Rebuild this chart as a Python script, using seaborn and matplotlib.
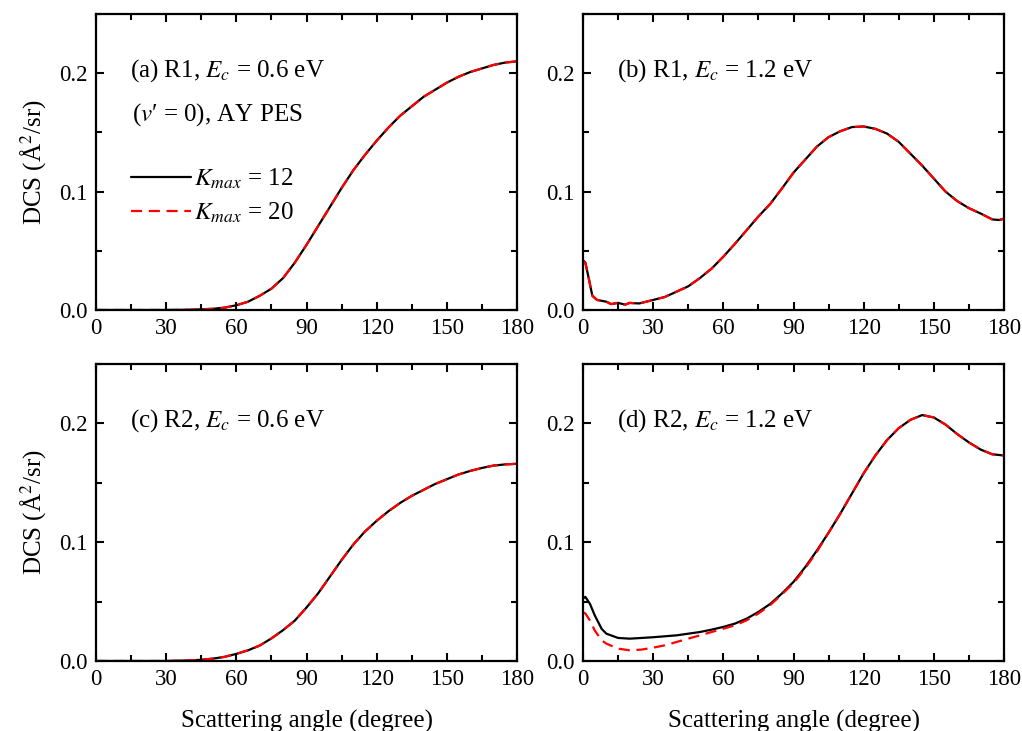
import numpy as np
import pandas as pd
import matplotlib
matplotlib.use('Agg')
import matplotlib.pyplot as plt
import seaborn as sns
from matplotlib.ticker import MultipleLocator

# Panel (a) R1, Ec = 0.6 eV
ang_a = [0, 15, 30, 40, 50, 55, 60, 65, 70, 75, 80, 85, 90, 95, 100, 105, 110, 115,
         120, 125, 130, 135, 140, 145, 150, 155, 160, 165, 170, 175, 180]
a_k12 = [0.0, 0.0, 0.0, 0.0002, 0.001, 0.002, 0.004, 0.007, 0.012, 0.018, 0.027, 0.040,
         0.055, 0.071, 0.087, 0.103, 0.118, 0.131, 0.143, 0.154, 0.164, 0.172, 0.180,
         0.186, 0.192, 0.197, 0.201, 0.204, 0.207, 0.209, 0.210]
a_k20 = a_k12

# Panel (b) R1, Ec = 1.2 eV
ang_b = [0, 1, 2, 4, 6, 10, 12, 15, 18, 20, 24, 27, 30, 35, 40, 45, 50, 55, 60, 65, 70,
         75, 80, 85, 90, 95, 100, 105, 110, 115, 120, 125, 130, 135, 140, 145, 150, 155,
         160, 165, 170, 175, 178, 180]
b_k12 = [0.042, 0.040, 0.031, 0.012, 0.0085, 0.007, 0.005, 0.006, 0.0045, 0.006, 0.0055,
         0.007, 0.0085, 0.011, 0.0155, 0.020, 0.027, 0.035, 0.045, 0.056, 0.0675, 0.079,
         0.0895, 0.1025, 0.116, 0.127, 0.138, 0.146, 0.151, 0.1545, 0.155, 0.153, 0.149,
         0.142, 0.132, 0.122, 0.111, 0.100, 0.092, 0.086, 0.0815, 0.0765, 0.076, 0.0772]
b_k20 = b_k12

# Panel (c) R2, Ec = 0.6 eV
ang_c = [0, 15, 30, 40, 45, 50, 55, 60, 65, 70, 75, 80, 85, 90, 95, 100, 105, 110, 115,
         120, 125, 130, 135, 140, 145, 150, 155, 160, 165, 170, 175, 180]
c_k12 = [0.0, 0.0, 0.0, 0.0005, 0.001, 0.002, 0.0035, 0.006, 0.009, 0.013, 0.019, 0.026,
         0.034, 0.045, 0.057, 0.071, 0.085, 0.098, 0.109, 0.118, 0.126, 0.133, 0.139,
         0.144, 0.149, 0.153, 0.157, 0.160, 0.1625, 0.1645, 0.1655, 0.166]
c_k20 = c_k12

# Panel (d) R2, Ec = 1.2 eV
ang_d = [0, 1, 3, 5, 8, 10, 15, 20, 25, 30, 35, 40, 45, 50, 55, 60, 65, 70, 75, 80, 85,
         90, 95, 100, 105, 110, 115, 120, 125, 130, 135, 140, 145, 150, 155, 160, 165,
         170, 175, 180]
d_k12 = [0.0525, 0.054, 0.048, 0.0385, 0.027, 0.023, 0.0194, 0.0188, 0.0194, 0.020,
         0.0208, 0.0216, 0.023, 0.0244, 0.0264, 0.0287, 0.0315, 0.0357, 0.0413, 0.048,
         0.0567, 0.0666, 0.079, 0.093, 0.108, 0.124, 0.141, 0.158, 0.173, 0.186, 0.196,
         0.203, 0.207, 0.205, 0.199, 0.191, 0.184, 0.178, 0.174, 0.173]
d_k20 = [0.041, 0.040, 0.034, 0.0258, 0.0174, 0.0146, 0.0104, 0.009, 0.0096, 0.0112,
         0.0132, 0.016, 0.0188, 0.0216, 0.0244, 0.0272, 0.030, 0.0343, 0.040, 0.047,
         0.0560, 0.0655, 0.078, 0.092, 0.108, 0.124, 0.141, 0.158, 0.173, 0.186, 0.196,
         0.203, 0.207, 0.205, 0.199, 0.191, 0.184, 0.178, 0.174, 0.173]

panels = [
    ('(a) R1, $E_c$ = 0.6 eV', ang_a, a_k12, a_k20),
    ('(b) R1, $E_c$ = 1.2 eV', ang_b, b_k12, b_k20),
    ('(c) R2, $E_c$ = 0.6 eV', ang_c, c_k12, c_k20),
    ('(d) R2, $E_c$ = 1.2 eV', ang_d, d_k12, d_k20),
]

sns.set_theme(style='ticks')
plt.rcParams['font.family'] = ['Liberation Serif', 'DejaVu Serif']
plt.rcParams['mathtext.fontset'] = 'stix'
plt.rcParams['xtick.direction'] = 'in'
plt.rcParams['ytick.direction'] = 'in'
for key in ['text.color', 'axes.labelcolor', 'xtick.color', 'ytick.color',
            'xtick.labelcolor', 'ytick.labelcolor']:
    plt.rcParams[key] = 'black'

fig = plt.figure(figsize=(10.22, 7.31), dpi=100)
W, H = 1022, 731
boxes = [(96, 14, 517, 310), (583, 14, 1004, 310),
         (96, 364, 517, 661), (583, 364, 1004, 661)]

for i, (title, ang, k12, k20) in enumerate(panels):
    l, t, r, b = boxes[i]
    ax = fig.add_axes([l / W, 1 - b / H, (r - l) / W, (b - t) / H])
    sns.lineplot(x=ang, y=k12, ax=ax, color='black', lw=1.6, label='$K_{max}$ = 12')
    sns.lineplot(x=ang, y=k20, ax=ax, color='red', lw=1.6, label='$K_{max}$ = 20')
    ax.get_lines()[1].set_dashes([5, 3])
    ax.set_xlim(0, 180)
    ax.set_ylim(0, 0.25)
    ax.xaxis.set_major_locator(MultipleLocator(30))
    ax.xaxis.set_minor_locator(MultipleLocator(15))
    ax.yaxis.set_major_locator(MultipleLocator(0.1))
    ax.yaxis.set_minor_locator(MultipleLocator(0.05))
    ax.tick_params(which='both', top=True, right=True, labelsize=16.5, width=1.5, pad=6,
                   color='black', labelcolor='black')
    ax.tick_params(which='major', length=6)
    ax.tick_params(which='minor', length=4)
    for sp in ax.spines.values():
        sp.set_linewidth(1.6)
        sp.set_color('black')
    ax.set_yticks([0, 0.1, 0.2])
    ax.set_yticklabels(['0.0', '0.1', '0.2'])
    ax.text(0.08, 0.81, title, transform=ax.transAxes, fontsize=18, va='center')
    if i == 0:
        ax.text(0.085, 0.66, "($v$′ = 0), AY PES", transform=ax.transAxes,
                fontsize=18, va='center')
        ax.legend(loc='upper left', bbox_to_anchor=(0.03, 0.56), frameon=False,
                  fontsize=18, handlelength=2.4, handletextpad=0.1, labelspacing=0.4)
    else:
        ax.get_legend().remove()
    if i % 2 == 0:
        ax.set_ylabel('DCS (Å$^2$/sr)', fontsize=18, labelpad=8)
    else:
        ax.set_ylabel('')
    if i >= 2:
        ax.set_xlabel('Scattering angle (degree)', fontsize=18, labelpad=14)

fig.savefig('out.png', dpi=100)
